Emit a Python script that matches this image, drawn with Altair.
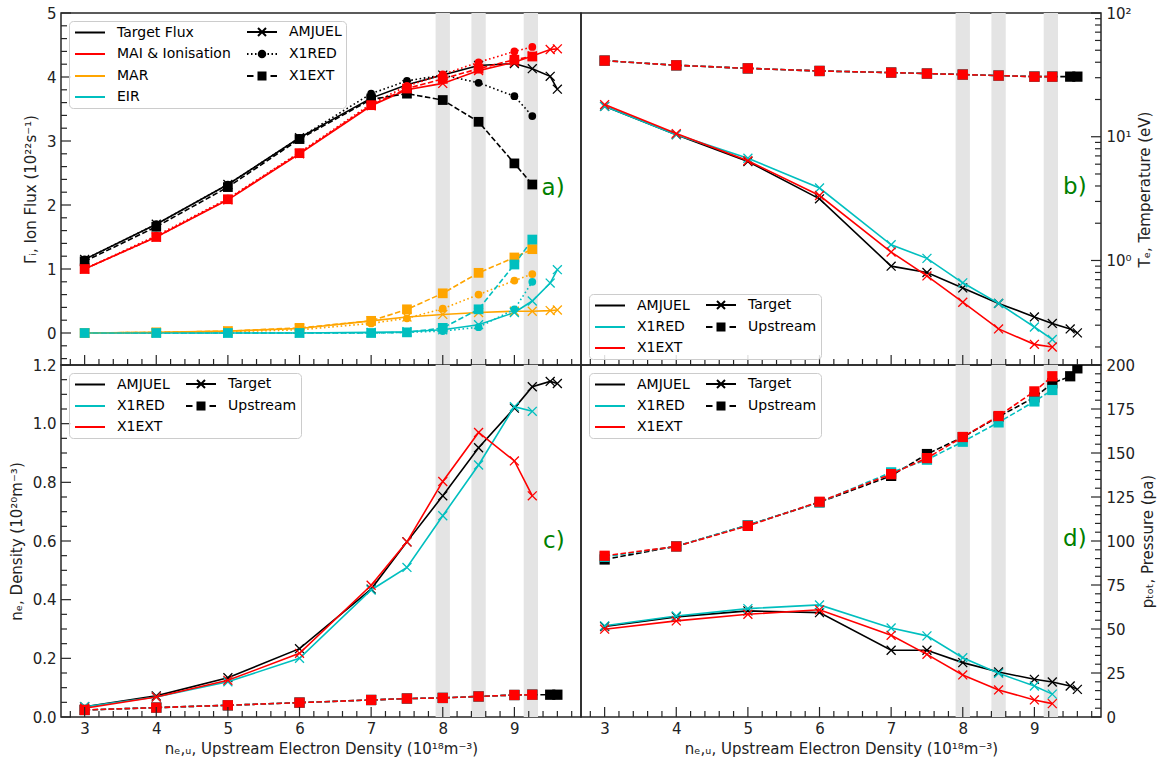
import altair as alt
import pandas as pd

FONT = "DejaVu Sans"
INK = "#262626"
W, H = 520, 352

# Upstream electron density scan points (10^18 m^-3)
NE_U_AMJUEL = [3, 4, 5, 6, 7, 7.5, 8, 8.5, 9, 9.25, 9.5, 9.6]
NE_U_X1 = [3, 4, 5, 6, 7, 7.5, 8, 8.5, 9, 9.25]

# Shaded density windows
BAND_START = [7.9, 8.4, 9.13]
BAND_END = [8.1, 8.6, 9.33]

# a) ion flux balance (10^22 s^-1)
FLUX_TARGET_AMJUEL = [1.15, 1.70, 2.32, 3.05, 3.67, 3.88, 4.03, 4.18, 4.21, 4.13, 4.01, 3.81]
FLUX_MAI_AMJUEL = [1.00, 1.50, 2.08, 2.80, 3.55, 3.80, 3.90, 4.10, 4.23, 4.33, 4.43, 4.44]
FLUX_MAR_AMJUEL = [0.00, 0.01, 0.03, 0.07, 0.19, 0.25, 0.29, 0.32, 0.34, 0.34, 0.35, 0.36]
FLUX_EIR_AMJUEL = [0.00, 0.00, 0.00, 0.00, 0.01, 0.02, 0.05, 0.13, 0.32, 0.50, 0.78, 0.99]

FLUX_TARGET_X1RED = [1.15, 1.70, 2.32, 3.05, 3.74, 3.94, 4.03, 3.91, 3.70, 3.39]
FLUX_MAI_X1RED = [1.00, 1.52, 2.10, 2.82, 3.58, 3.86, 4.04, 4.23, 4.40, 4.47]
FLUX_MAR_X1RED = [0.00, 0.01, 0.02, 0.05, 0.15, 0.23, 0.38, 0.60, 0.82, 0.92]
FLUX_EIR_X1RED = [0.00, 0.00, 0.00, 0.00, 0.00, 0.01, 0.03, 0.09, 0.37, 0.80]

FLUX_TARGET_X1EXT = [1.12, 1.66, 2.28, 3.03, 3.65, 3.74, 3.64, 3.30, 2.65, 2.32]
FLUX_MAI_X1EXT = [1.00, 1.50, 2.09, 2.81, 3.56, 3.82, 3.97, 4.13, 4.27, 4.32]
FLUX_MAR_X1EXT = [0.00, 0.01, 0.03, 0.08, 0.19, 0.37, 0.62, 0.94, 1.18, 1.31]
FLUX_EIR_X1EXT = [0.00, 0.00, 0.00, 0.00, 0.00, 0.01, 0.08, 0.37, 1.07, 1.46]

# b) electron temperature (eV)
TE_TARGET_AMJUEL = [17.6, 10.4, 6.3, 3.15, 0.90, 0.80, 0.60, 0.45, 0.35, 0.31, 0.28, 0.26]
TE_TARGET_X1RED = [17.6, 10.4, 6.7, 3.85, 1.34, 1.04, 0.66, 0.45, 0.29, 0.23]
TE_TARGET_X1EXT = [18.2, 10.6, 6.4, 3.35, 1.17, 0.75, 0.46, 0.28, 0.21, 0.20]
TE_UP_AMJUEL = [41.2, 37.8, 35.7, 34.0, 33.0, 32.4, 31.8, 31.2, 30.6, 30.6, 30.6, 30.6]
TE_UP_X1RED = [41.2, 37.8, 35.7, 34.0, 33.0, 32.4, 31.8, 31.2, 30.7, 30.7]
TE_UP_X1EXT = [41.2, 37.8, 35.7, 34.0, 33.0, 32.4, 31.8, 31.2, 30.6, 30.6]

# c) electron density (10^20 m^-3)
NE_TARGET_AMJUEL = [0.035, 0.072, 0.134, 0.233, 0.436, 0.597, 0.754, 0.918, 1.053, 1.126, 1.144, 1.137]
NE_TARGET_X1RED = [0.035, 0.068, 0.120, 0.200, 0.433, 0.510, 0.686, 0.859, 1.058, 1.042]
NE_TARGET_X1EXT = [0.030, 0.068, 0.125, 0.217, 0.449, 0.597, 0.803, 0.970, 0.873, 0.754]
NE_UP_AMJUEL = [0.024, 0.032, 0.040, 0.049, 0.058, 0.063, 0.065, 0.070, 0.075, 0.076, 0.076, 0.076]
NE_UP_X1RED = [0.024, 0.032, 0.040, 0.049, 0.058, 0.063, 0.065, 0.070, 0.075, 0.076]
NE_UP_X1EXT = [0.024, 0.032, 0.040, 0.049, 0.058, 0.063, 0.065, 0.070, 0.075, 0.076]

# d) total pressure (Pa)
P_TARGET_AMJUEL = [51.4, 56.9, 60.3, 59.3, 37.9, 37.9, 30.9, 25.6, 21.4, 19.9, 17.6, 15.7]
P_TARGET_X1RED = [51.8, 57.4, 61.6, 63.7, 50.6, 46.1, 33.7, 24.8, 17.6, 13.0]
P_TARGET_X1EXT = [49.9, 54.6, 58.4, 60.9, 46.4, 35.6, 23.9, 15.4, 9.7, 7.6]
P_UP_AMJUEL = [89.5, 97.0, 109.0, 122.0, 137.0, 149.4, 159.0, 170.6, 181.6, 189.6, 193.6, 198.1]
P_UP_X1RED = [91.0, 97.0, 109.0, 122.0, 139.0, 146.2, 156.4, 167.4, 179.3, 185.8]
P_UP_X1EXT = [91.6, 96.9, 108.6, 122.3, 138.0, 147.1, 159.1, 171.0, 185.0, 193.6]

DATASETS = ["AMJUEL", "X1RED", "X1EXT"]
DATASET_X = {"AMJUEL": NE_U_AMJUEL, "X1RED": NE_U_X1, "X1EXT": NE_U_X1}
DATASET_COLORS = {"AMJUEL": "#000000", "X1RED": "#00bfbf", "X1EXT": "#ff0000"}

FLUX_TERMS = ["Target Flux", "MAI & Ionisation", "MAR", "EIR"]
FLUX_COLORS = ["#000000", "#ff0000", "#ffa500", "#00bfbf"]
FLUX = {
    "AMJUEL": [FLUX_TARGET_AMJUEL, FLUX_MAI_AMJUEL, FLUX_MAR_AMJUEL, FLUX_EIR_AMJUEL],
    "X1RED": [FLUX_TARGET_X1RED, FLUX_MAI_X1RED, FLUX_MAR_X1RED, FLUX_EIR_X1RED],
    "X1EXT": [FLUX_TARGET_X1EXT, FLUX_MAI_X1EXT, FLUX_MAR_X1EXT, FLUX_EIR_X1EXT],
}
TEMPERATURE = {
    "AMJUEL": (TE_TARGET_AMJUEL, TE_UP_AMJUEL),
    "X1RED": (TE_TARGET_X1RED, TE_UP_X1RED),
    "X1EXT": (TE_TARGET_X1EXT, TE_UP_X1EXT),
}
DENSITY = {
    "AMJUEL": (NE_TARGET_AMJUEL, NE_UP_AMJUEL),
    "X1RED": (NE_TARGET_X1RED, NE_UP_X1RED),
    "X1EXT": (NE_TARGET_X1EXT, NE_UP_X1EXT),
}
PRESSURE = {
    "AMJUEL": (P_TARGET_AMJUEL, P_UP_AMJUEL),
    "X1RED": (P_TARGET_X1RED, P_UP_X1RED),
    "X1EXT": (P_TARGET_X1EXT, P_UP_X1EXT),
}

# Axis tick positions
X_MAJOR = [3, 4, 5, 6, 7, 8, 9]
X_MINOR = [round(0.2 * k, 1) for k in range(14, 50) if k % 5]
A_MAJOR = [0, 1, 2, 3, 4, 5]
A_MINOR = [round(0.2 * k, 1) for k in range(-2, 25) if k % 5]
B_MAJOR = [1, 10, 100]
B_MINOR = [round(m * d, 2) for d in (0.1, 1, 10) for m in range(2, 10)]
C_MAJOR = [0, 0.2, 0.4, 0.6, 0.8, 1.0, 1.2]
C_MINOR = [round(0.05 * k, 2) for k in range(0, 25) if k % 4]
D_MAJOR = [0, 25, 50, 75, 100, 125, 150, 175, 200]
D_MINOR = [5 * k for k in range(0, 41) if k % 5]

X_TITLE = "nₑ,ᵤ, Upstream Electron Density (10¹⁸m⁻³)"

# Marker and legend glyphs (SVG paths)
X_MARK = "M-1,-1L1,1M-1,1L1,-1"
G_LINE = "M-1,0H5"
G_LINE_X = "M-1,0H5M1.2,-0.8L2.8,0.8M1.2,0.8L2.8,-0.8"
G_DOT_CIRCLE = ("M-1,0H-0.7M-0.2,0H0.1M0.6,0H0.9M3.1,0H3.4M3.9,0H4.2M4.7,0H5"
                "M2.65,0A0.65,0.65,0,1,1,1.35,0A0.65,0.65,0,1,1,2.65,0Z")
G_DASH_SQUARE = "M-1,0H0.3M3.7,0H5M1.3,-0.7H2.7V0.7H1.3Z"

DOTTED = [1.6, 2.6]
DASHED = [5.5, 2.5]

X_SCALE = alt.Scale(domain=[2.67, 9.93], nice=False, zero=False)


def x_enc(bottom):
    if bottom:
        ax = alt.Axis(values=X_MAJOR, format="d", title=X_TITLE,
                      labelPadding=4, titlePadding=5)
        return alt.X("x:Q", scale=X_SCALE, axis=ax)
    return alt.X("x:Q", scale=X_SCALE, axis=None)


def y_enc(scale, values, title, orient, fmt=None, expr=None):
    kw = dict(values=values, title=title, orient=orient, labelPadding=5)
    if fmt:
        kw["format"] = fmt
    if expr:
        kw["labelExpr"] = expr
    if orient == "right":
        kw.update(titleAngle=270, titleBaseline="top", titlePadding=6)
    else:
        kw.update(titlePadding=8)
    return alt.Y("y:Q", scale=scale, axis=alt.Axis(**kw))


def bands(xe):
    df = pd.DataFrame({"x": BAND_START, "x2": BAND_END})
    return alt.Chart(df).mark_rect(color="#e4e4e4").encode(
        x=xe, x2="x2:Q", y=alt.value(0), y2=alt.value(H))


def ticks(xe, ye, y_major, y_minor, side):
    out = []
    for vals, ln in ((X_MAJOR, 10), (X_MINOR, 6)):
        out.append(alt.Chart(pd.DataFrame({"x": vals})).mark_rule(
            color=INK, strokeWidth=1.2).encode(
            x=xe, y=alt.value(H), y2=alt.value(H - ln)))
    for vals, ln in ((y_major, 10), (y_minor, 6)):
        x0, x1 = (0, ln) if side == "left" else (W, W - ln)
        out.append(alt.Chart(pd.DataFrame({"y": vals})).mark_rule(
            color=INK, strokeWidth=1.2).encode(
            y=ye, x=alt.value(x0), x2=alt.value(x1)))
    return out


def letter(xe, ye, x, y, t):
    df = pd.DataFrame({"x": [x], "y": [y], "t": [t]})
    return alt.Chart(df).mark_text(
        align="left", baseline="middle", fontSize=23, font=FONT,
        color="#008000").encode(x=xe, y=ye, text="t:N")


def legend_layer(keys, colors, glyphs, lx, ly):
    # entries fill the two columns top-to-bottom, left column first
    lg = alt.Legend(
        title=None, orient="none", legendX=lx, legendY=ly, columns=2,
        symbolSize=100, symbolStrokeWidth=2, symbolOpacity=1,
        labelFont=FONT, labelFontSize=14, labelColor="#000000",
        labelOffset=30, rowPadding=6, columnPadding=12, padding=4,
        strokeColor="#cccccc", fillColor="rgba(255,255,255,0.85)",
        cornerRadius=4, labelLimit=300)
    df = pd.DataFrame({"key": keys})
    return alt.Chart(df).mark_point(filled=True, opacity=0, strokeWidth=2).encode(
        color=alt.Color("key:N", scale=alt.Scale(domain=keys, range=colors), legend=lg),
        stroke=alt.Stroke("key:N", scale=alt.Scale(domain=keys, range=colors), legend=lg),
        shape=alt.Shape("key:N", scale=alt.Scale(domain=keys, range=glyphs), legend=lg),
    )


# ---------------- a) ion flux ----------------
def flux_panel():
    xe = x_enc(False)
    ye = y_enc(alt.Scale(domain=[-0.5, 5], nice=False, zero=False), A_MAJOR,
               "Γᵢ, Ion Flux (10²²s⁻¹)", "left", fmt="d")
    cscale = alt.Scale(domain=FLUX_TERMS, range=FLUX_COLORS)
    layers = [bands(xe)]
    styles = {"AMJUEL": None, "X1RED": DOTTED, "X1EXT": DASHED}
    for ds in DATASETS:
        frames = [pd.DataFrame({"x": DATASET_X[ds], "y": vals, "term": term})
                  for term, vals in zip(FLUX_TERMS, FLUX[ds])]
        df = pd.concat(frames, ignore_index=True)
        line_kw = dict(strokeWidth=1.6, clip=True)
        if styles[ds]:
            line_kw["strokeDash"] = styles[ds]
        col = alt.Color("term:N", scale=cscale, legend=None)
        layers.append(alt.Chart(df).mark_line(**line_kw).encode(
            x=xe, y=ye, color=col, detail="term:N"))
        if ds == "AMJUEL":
            mk = alt.Chart(df).mark_point(shape=X_MARK, filled=False, size=80,
                                          strokeWidth=1.3, opacity=1, clip=True)
        elif ds == "X1RED":
            mk = alt.Chart(df).mark_circle(size=60, opacity=1, clip=True)
        else:
            mk = alt.Chart(df).mark_square(size=95, opacity=1, clip=True)
        layers.append(mk.encode(x=xe, y=ye, color=col))
    layers += ticks(xe, ye, A_MAJOR, A_MINOR, "left")
    layers.append(letter(xe, ye, 9.38, 2.27, "a)"))
    layers.append(legend_layer(
        FLUX_TERMS + DATASETS,
        FLUX_COLORS + ["#000000", "#000000", "#000000"],
        [G_LINE, G_LINE, G_LINE, G_LINE, G_LINE_X, G_DOT_CIRCLE, G_DASH_SQUARE],
        8, 8))
    return alt.layer(*layers).resolve_scale(
        color="independent", stroke="independent", shape="independent"
    ).properties(width=W, height=H)


# ---------------- b), c), d) target / upstream ----------------
def profile_panel(series, ye, bottom, y_major, y_minor, side, tag, legend_y):
    xe = x_enc(bottom)
    layers = [bands(xe)]
    for ds in DATASETS:
        target, upstream = series[ds]
        color = DATASET_COLORS[ds]
        tdf = pd.DataFrame({"x": DATASET_X[ds], "y": target})
        udf = pd.DataFrame({"x": DATASET_X[ds], "y": upstream})
        layers.append(alt.Chart(tdf).mark_line(color=color, strokeWidth=1.6, clip=True)
                      .encode(x=xe, y=ye))
        layers.append(alt.Chart(tdf).mark_point(shape=X_MARK, filled=False, size=80,
                                                strokeWidth=1.3, color=color,
                                                opacity=1, clip=True)
                      .encode(x=xe, y=ye))
        layers.append(alt.Chart(udf).mark_line(color=color, strokeWidth=1.6,
                                               strokeDash=DASHED, clip=True)
                      .encode(x=xe, y=ye))
        layers.append(alt.Chart(udf).mark_square(color=color, size=105, opacity=1,
                                                 clip=True)
                      .encode(x=xe, y=ye))
    layers += ticks(xe, ye, y_major, y_minor, side)
    layers.append(letter(xe, ye, tag[0], tag[1], tag[2]))
    layers.append(legend_layer(
        ["AMJUEL", "X1RED", "X1EXT", "Target", "Upstream"],
        ["#000000", "#00bfbf", "#ff0000", "#000000", "#000000"],
        [G_LINE, G_LINE, G_LINE, G_LINE_X, G_DASH_SQUARE],
        8, legend_y))
    return alt.layer(*layers).resolve_scale(
        color="independent", stroke="independent", shape="independent"
    ).properties(width=W, height=H)


panel_a = flux_panel()

panel_b = profile_panel(
    TEMPERATURE,
    y_enc(alt.Scale(type="log", domain=[0.143, 100], nice=False), B_MAJOR,
          "Tₑ, Temperature (eV)", "right",
          expr="datum.value >= 100 ? '10²' : datum.value >= 10 ? '10¹' : '10⁰'"),
    False, B_MAJOR, B_MINOR, "right", (9.40, 3.9, "b)"), 281)

panel_c = profile_panel(
    DENSITY,
    y_enc(alt.Scale(domain=[0, 1.2], nice=False, zero=False), C_MAJOR,
          "nₑ, Density (10²⁰m⁻³)", "left", fmt=".1f"),
    True, C_MAJOR, C_MINOR, "left", (9.40, 0.6, "c)"), 8)

panel_d = profile_panel(
    PRESSURE,
    y_enc(alt.Scale(domain=[0, 200], nice=False, zero=False), D_MAJOR,
          "pₜₒₜ, Pressure (pa)", "right", fmt="d"),
    True, D_MAJOR, D_MINOR, "right", (9.40, 101, "d)"), 8)

chart = alt.concat(
    panel_a, panel_b, panel_c, panel_d, columns=2, spacing=0, bounds="flush"
).configure_view(
    stroke=INK, strokeWidth=1.5
).configure_axis(
    labelFont=FONT, titleFont=FONT, labelFontSize=15, titleFontSize=15,
    titleFontWeight="normal", labelColor="#222222", titleColor="#222222",
    ticks=False, tickSize=0, domain=False, grid=False,
    labelFlush=False, labelOverlap=False
).properties(
    padding={"left": 8, "top": 5, "right": 10, "bottom": 5},
    background="white"
)

chart.save("out.html", embed_options={"renderer": "svg", "actions": False})
